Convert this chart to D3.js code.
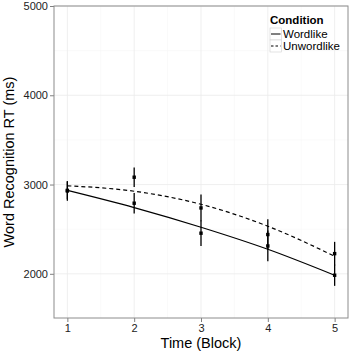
<!DOCTYPE html>
<html>
<head>
<meta charset="utf-8">
<script src="https://cdn.jsdelivr.net/npm/d3@7"></script>
<style>
  body { margin: 0; background: #fff; }
  text { font-family: "Liberation Sans", Arial, sans-serif; }
</style>
</head>
<body>
<svg id="chart" width="350" height="351"></svg>
<script>
// Blocks on the x axis
const blocks = [1, 2, 3, 4, 5];

// Observed means and standard errors per condition
const wordMeans = [2928, 2791, 2455, 2312, 1984];
const wordErr = [110, 115, 143, 172, 119];
const unwordMeans = [2935, 3082, 2738, 2440, 2226];
const unwordErr = [100, 110, 150, 171, 132];

// Model fitted values (curves)
const wordFit = [2935, 2742, 2522, 2275, 1984];
const unwordFit = [2986, 2925, 2779, 2533, 2197];

const yTicks = [2000, 3000, 4000, 5000];

const series = [
    { name: "Wordlike", means: wordMeans, err: wordErr, fit: wordFit, dash: null },
    { name: "Unwordlike", means: unwordMeans, err: unwordErr, fit: unwordFit, dash: "4,3" },
];

const svg = d3.select("#chart");
const margin = { top: 6, right: 2, bottom: 33, left: 54 };
const width = 350 - margin.left - margin.right;
const height = 351 - margin.top - margin.bottom;

const x = d3.scaleLinear().domain([0.8, 5.2]).range([0, width]);
const y = d3.scaleLinear().domain([1505, 5000]).range([height, 0]);

const g = svg.append("g").attr("transform", `translate(${margin.left},${margin.top})`);

// Minor grid
const minorX = d3.range(1.5, 5, 1);
const minorY = [1500, 2500, 3500, 4500];
g.append("g").selectAll("line")
    .data(minorX).enter().append("line")
    .attr("x1", d => x(d)).attr("x2", d => x(d))
    .attr("y1", 0).attr("y2", height)
    .attr("stroke", "#f7f7f7").attr("stroke-width", 0.6);
g.append("g").selectAll("line")
    .data(minorY.filter(d => y(d) <= height)).enter().append("line")
    .attr("x1", 0).attr("x2", width)
    .attr("y1", d => y(d)).attr("y2", d => y(d))
    .attr("stroke", "#f7f7f7").attr("stroke-width", 0.6);

// Major grid
g.append("g").selectAll("line")
    .data(blocks).enter().append("line")
    .attr("x1", d => x(d)).attr("x2", d => x(d))
    .attr("y1", 0).attr("y2", height)
    .attr("stroke", "#ebebeb").attr("stroke-width", 0.8);
g.append("g").selectAll("line")
    .data(yTicks).enter().append("line")
    .attr("x1", 0).attr("x2", width)
    .attr("y1", d => y(d)).attr("y2", d => y(d))
    .attr("stroke", "#ebebeb").attr("stroke-width", 0.8);

// Axes
const xAxis = g.append("g")
    .attr("transform", `translate(0,${height})`)
    .call(d3.axisBottom(x).tickValues(blocks).tickFormat(d3.format("d")).tickSize(4).tickPadding(2));
const yAxis = g.append("g")
    .call(d3.axisLeft(y).tickValues(yTicks).tickFormat(d => d).tickSize(4).tickPadding(2));
[xAxis, yAxis].forEach(a => {
    a.select(".domain").remove();
    a.selectAll(".tick line").attr("stroke", "#7f7f7f");
    a.selectAll(".tick text").attr("fill", "#222").style("font-size", "11px")
        .style("font-family", "Liberation Sans, Arial, sans-serif");
});

// Panel border
g.append("rect")
    .attr("width", width).attr("height", height)
    .attr("fill", "none").attr("stroke", "#8c8c8c").attr("stroke-width", 1);

// Fitted curves
const line = d3.line()
    .x((d, i) => x(blocks[i]))
    .y(d => y(d))
    .curve(d3.curveMonotoneX);

series.forEach(s => {
    g.append("path")
        .datum(s.fit)
        .attr("d", line)
        .attr("fill", "none")
        .attr("stroke", "#000")
        .attr("stroke-width", 1.2)
        .attr("stroke-dasharray", s.dash);

    g.append("g").selectAll("line")
        .data(s.means).enter().append("line")
        .attr("x1", (d, i) => x(blocks[i])).attr("x2", (d, i) => x(blocks[i]))
        .attr("y1", (d, i) => y(d - s.err[i])).attr("y2", (d, i) => y(d + s.err[i]))
        .attr("stroke", "#000").attr("stroke-width", 1.3);

    g.append("g").selectAll("rect")
        .data(s.means).enter().append("rect")
        .attr("x", (d, i) => x(blocks[i]) - 1.7)
        .attr("y", d => y(d) - 1.7)
        .attr("width", 3.4).attr("height", 3.4)
        .attr("fill", "#000");
});

// Axis titles
svg.append("text")
    .attr("x", margin.left + width / 2)
    .attr("y", 348)
    .attr("text-anchor", "middle")
    .style("font-size", "14.5px")
    .text("Time (Block)");

svg.append("text")
    .attr("transform", `translate(14,${margin.top + height / 2}) rotate(-90)`)
    .attr("text-anchor", "middle")
    .style("font-size", "14.5px")
    .text("Word Recognition RT (ms)");

// Legend
const legend = svg.append("g").attr("transform", "translate(270,14)");
legend.append("text")
    .attr("x", 0).attr("y", 10)
    .style("font-size", "11.5px").style("font-weight", "bold")
    .text("Condition");

series.forEach((s, i) => {
    const row = legend.append("g").attr("transform", `translate(0,${14 + i * 12})`);
    row.append("rect")
        .attr("width", 11.5).attr("height", 12)
        .attr("fill", "#fff").attr("stroke", "#d0d0d0").attr("stroke-width", 0.6);
    row.append("line")
        .attr("x1", 1).attr("x2", 10.5).attr("y1", 6).attr("y2", 6)
        .attr("stroke", "#000").attr("stroke-width", 1)
        .attr("stroke-dasharray", s.dash ? "2.5,2" : null);
    row.append("text")
        .attr("x", 13).attr("y", 10)
        .style("font-size", "11.5px")
        .text(s.name);
});
</script>
</body>
</html>
